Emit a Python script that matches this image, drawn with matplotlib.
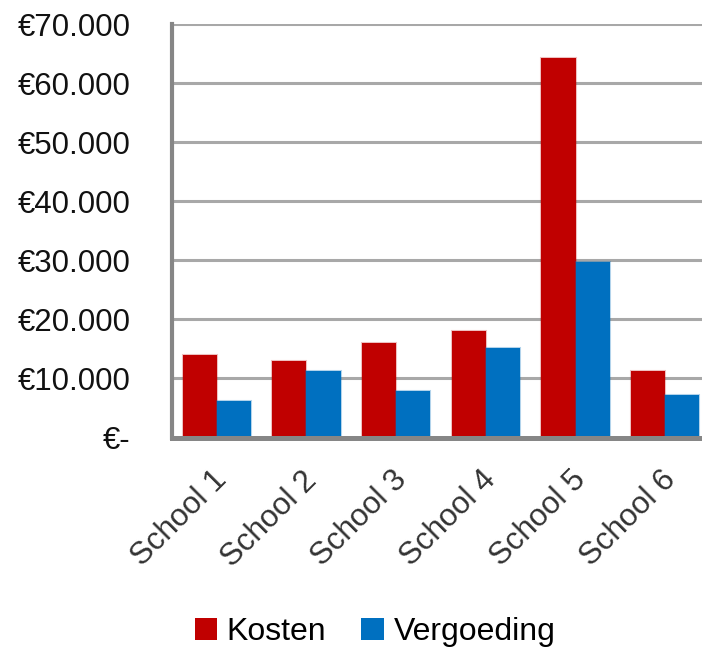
import matplotlib
matplotlib.use("Agg")
import matplotlib.pyplot as plt
import matplotlib.transforms as mtransforms
import numpy as np

categories = ["School 1", "School 2", "School 3", "School 4", "School 5", "School 6"]
kosten = [14000, 13000, 16000, 18100, 64300, 11300]
vergoeding = [6200, 11300, 7800, 15100, 29700, 7200]
y_ticks = [0, 10000, 20000, 30000, 40000, 50000, 60000, 70000]
y_labels = ["€-", "€10.000", "€20.000", "€30.000", "€40.000", "€50.000", "€60.000", "€70.000"]

plt.rcParams['font.family'] = ['Liberation Sans', 'DejaVu Sans']

W, H = 702, 650
fig = plt.figure(figsize=(W / 100, H / 100), dpi=100)
ax = fig.add_axes([172 / W, (H - 437.5) / H, 538 / W, (437.5 - 24) / H])

x = np.arange(len(categories))
bw = 0.38
red = "#C00000"
blue = "#0070C0"
ax.bar(x - bw / 2, kosten, bw, color=red, edgecolor=(0.75, 0, 0, 0.25), linewidth=1.5, zorder=3, label="Kosten")
ax.bar(x + bw / 2, vergoeding, bw, color=blue, edgecolor=(0, 0.44, 0.75, 0.3), linewidth=1.5, zorder=3, label="Vergoeding")

ax.set_xlim(-0.5, len(categories) - 0.5)
ax.set_ylim(0, 70000)
ax.set_yticks(y_ticks)
ax.set_yticklabels(y_labels, fontsize=22.5, color="#111111")
ax.tick_params(axis='y', length=0, pad=30)
ax.yaxis.grid(True, color="#a8a8a8", linewidth=2.2, zorder=0)
ax.set_axisbelow(True)

ax.set_xticks(x)
ax.set_xticklabels(categories, rotation=45, ha='right', va='top', rotation_mode='anchor',
                   fontsize=22.5, color="#333333")
ax.tick_params(axis='x', length=0, pad=20)
offset = mtransforms.ScaledTranslation(-5 / 100, 0, fig.dpi_scale_trans)
for lab in ax.get_xticklabels():
    lab.set_transform(lab.get_transform() + offset)

for s in ["top", "right"]:
    ax.spines[s].set_visible(False)
ax.spines["left"].set_color("#868686")
ax.spines["left"].set_linewidth(3)
ax.spines["bottom"].set_color("#868686")
ax.spines["bottom"].set_linewidth(3.6)
ax.spines["bottom"].set_zorder(4)

leg = fig.legend(loc='center', bbox_to_anchor=(375 / W, 1 - 632 / H), ncol=2, frameon=False,
                 fontsize=23, handlelength=0.7, handleheight=0.7, handletextpad=0.3,
                 columnspacing=1.1, borderaxespad=0)
for h in leg.legend_handles:
    h.set_edgecolor("none")

fig.savefig("out.png", dpi=100)
